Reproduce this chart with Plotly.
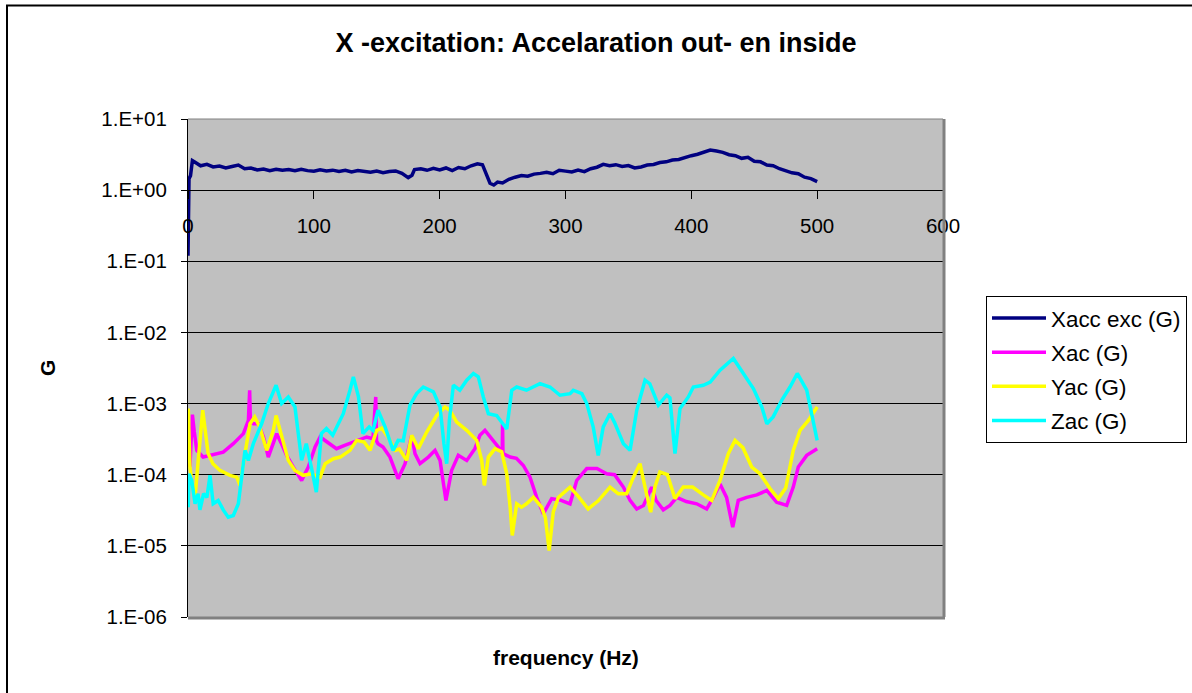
import plotly.graph_objects as go

# ---------------- data ----------------
freq_exc = [0, 0.8, 2, 3.5, 5, 10, 15, 20, 25, 30, 35, 40, 45, 50, 55, 60, 65, 70, 75, 80, 85, 90,
            95, 100, 105, 110, 115, 120, 125, 130, 135, 140, 145, 150, 155, 160, 165, 170, 175,
            178, 180, 185, 190, 195, 200, 205, 210, 215, 220, 225, 230, 234, 237, 240, 243, 246,
            250, 255, 260, 265, 270, 275, 280, 285, 290, 295, 300, 305, 310, 315, 320, 325, 330,
            335, 340, 345, 350, 355, 360, 365, 370, 375, 380, 385, 390, 395, 400, 405, 410, 415,
            420, 425, 430, 435, 440, 445, 450, 455, 460, 465, 470, 475, 480, 485, 490, 495, 500]
xacc_exc = [0.12, 1.45, 1.6, 2.6, 2.5, 2.2, 2.3, 2.12, 2.18, 2.05, 2.15, 2.25, 2.0, 2.05, 1.92,
            1.98, 1.88, 1.97, 1.9, 1.95, 1.87, 1.96, 1.88, 1.84, 1.93, 1.86, 1.91, 1.83, 1.9, 1.8,
            1.88, 1.84, 1.78, 1.85, 1.76, 1.83, 1.86, 1.72, 1.5, 1.62, 1.95, 2.0, 1.9, 2.02, 1.92,
            2.05, 1.88, 2.08, 2.0, 2.2, 2.35, 2.28, 1.7, 1.25, 1.18, 1.3, 1.26, 1.42, 1.52, 1.6,
            1.57, 1.68, 1.72, 1.78, 1.7, 1.9, 1.85, 1.8, 1.92, 1.82, 2.0, 2.1, 2.3, 2.2, 2.28,
            2.15, 2.22, 2.05, 2.12, 2.25, 2.3, 2.45, 2.5, 2.65, 2.7, 2.9, 3.05, 3.2, 3.4, 3.65,
            3.55, 3.4, 3.15, 3.05, 2.8, 2.9, 2.55, 2.5, 2.25, 2.2, 2.0, 1.88, 1.75, 1.7, 1.52,
            1.45, 1.32]

freq_x = [1.5, 3.5, 5, 7, 12, 17.6, 28, 36, 44, 48, 49.0, 49.6, 52, 56, 60, 63.8, 67, 70.5, 74,
          78.4, 83.7, 90.3, 95.6, 101, 105, 113, 118, 125, 131, 142, 147, 149.2, 149.8, 151,
          155, 160.5, 167, 172.5, 177.8, 180.4, 184.4, 191, 196.3, 200.3, 205, 209.5, 214.8,
          221.5, 228, 232, 236, 241.3, 246.6, 249.7, 250.0, 250.3, 256, 261, 266.5, 271.8,
          277.1, 282.4, 289, 296, 303.6, 308.9, 316.9, 325, 332.7, 339, 346, 351.3, 356.6,
          362, 368.5, 372, 377.7, 383, 388.4, 396, 404.3, 412.2, 417.5, 422.8, 428, 432.9,
          437.3, 444, 452, 460, 467.8, 475.8, 481, 485, 491.7, 500]
xac = [1.3e-4, 7e-4, 4e-4, 2.2e-4, 1.77e-4, 1.87e-4, 2.08e-4, 2.73e-4, 3.78e-4, 5.8e-4, 1.54e-3,
       5.5e-4, 5.2e-4, 5.2e-4, 3.39e-4, 1.77e-4, 2.5e-4, 3.78e-4, 2.8e-4, 1.87e-4, 1.28e-4,
       8.3e-5, 1.28e-4, 2.45e-4, 3.39e-4, 2.73e-4, 2.32e-4, 2.6e-4, 2.88e-4, 3.39e-4, 3.21e-4,
       1.24e-3, 3.0e-4, 2.73e-4, 2.45e-4, 1.77e-4, 8.8e-5, 1.43e-4, 3.58e-4, 1.98e-4, 1.43e-4,
       1.77e-4, 2.2e-4, 1.59e-4, 4.35e-5, 1.15e-4, 1.87e-4, 1.59e-4, 2.32e-4, 3.58e-4, 4.2e-4,
       3.21e-4, 2.45e-4, 2.0e-4, 5.2e-4, 1.98e-4, 1.77e-4, 1.7e-4, 1.35e-4, 9.25e-5, 4.8e-5,
       2.83e-5, 4.6e-5, 4.4e-5, 3.9e-5, 8.3e-5, 1.22e-4, 1.22e-4, 1.03e-4, 1.0e-4, 6.7e-5,
       4.35e-5, 3.3e-5, 3.7e-5, 6.7e-5, 4.35e-5, 3.2e-5, 3.7e-5, 4.8e-5, 4.2e-5, 3.9e-5,
       3.3e-5, 4.8e-5, 7.4e-5, 4.8e-5, 1.83e-5, 4.35e-5, 4.8e-5, 5.2e-5, 6e-5, 4.1e-5, 3.7e-5,
       6.7e-5, 1.28e-4, 1.87e-4, 2.32e-4]

freq_y = [0.2, 1.5, 3, 5.6, 8, 11.7, 16, 19.8, 25.4, 33.4, 38.7, 41.3, 45.3, 49.3, 53, 57, 62.5,
          67.8, 70, 74.4, 79.7, 85, 91.6, 98, 105, 109, 115.5, 121, 128.7, 134, 140, 144.6, 150,
          154, 159, 164.5, 168, 173.8, 177.8, 183, 189.7, 197.6, 204.2, 208.2, 213.5, 221.5,
          229.4, 233.4, 235.5, 238.7, 244, 249.3, 253.3, 256, 257.7, 261.2, 265, 269, 274.5,
          281, 284, 287, 290.3, 294.3, 303.6, 310, 318, 326, 335.4, 342, 348.6, 354, 359.2,
          363.2, 367.7, 371, 375, 381, 387, 393.6, 401, 409.5, 416.2, 422.8, 429.4, 434.7, 441,
          448, 454.6, 462.5, 469.1, 475, 481, 486.4, 493, 500]
yac = [8.5e-4, 1.3e-4, 8e-5, 4.8e-5, 1.5e-4, 8.05e-4, 1.98e-4, 1.43e-4, 1.15e-4, 9.8e-5, 9.25e-5,
       7.07e-5, 1.98e-4, 5.2e-4, 6.5e-4, 4.7e-4, 2.2e-4, 4.2e-4, 6.8e-4, 3.39e-4, 1.59e-4,
       1.15e-4, 9.8e-5, 1.03e-4, 9.25e-5, 1.43e-4, 1.68e-4, 1.77e-4, 2.2e-4, 3.04e-4, 2.88e-4,
       2.2e-4, 4.2e-4, 4.5e-4, 3.39e-4, 2.2e-4, 2.3e-4, 1.59e-4, 3.58e-4, 2.32e-4, 3.98e-4,
       6.8e-4, 8.97e-4, 8e-4, 5.5e-4, 4.2e-4, 3.04e-4, 1.59e-4, 7.07e-5, 1.77e-4, 2.32e-4,
       2.1e-4, 1.03e-4, 3.5e-5, 1.4e-5, 3.9e-5, 3.5e-5, 3.9e-5, 4.8e-5, 3.5e-5, 2.5e-5, 8.6e-6,
       3.0e-5, 4.8e-5, 6.7e-5, 5.0e-5, 3.3e-5, 4.3e-5, 6.7e-5, 5.4e-5, 5.4e-5, 9.25e-5,
       1.43e-4, 6.7e-5, 2.97e-5, 6.7e-5, 1.09e-4, 1.0e-4, 4.6e-5, 6.7e-5, 6.7e-5, 5.2e-5,
       4.35e-5, 8.3e-5, 1.98e-4, 3.04e-4, 2.4e-4, 1.28e-4, 1.03e-4, 6.4e-5, 4.6e-5, 6.5e-5,
       2.2e-4, 4.2e-4, 5.8e-4, 8.97e-4]

freq_z = [0.2, 0.8, 3, 5.6, 8, 9.5, 12.4, 15, 17.5, 20, 24, 28, 32, 36, 40, 42.7, 45.3, 48, 51.9,
          58.5, 63.8, 70, 74.4, 79.7, 85, 90.3, 94, 98, 102, 106, 110, 115, 123.4, 128.7, 131.4,
          135.5, 139, 144, 147, 151, 156.6, 163, 167, 171, 176.4, 181.7, 187, 195, 200.3, 203.4,
          205.6, 207.7, 210.9, 216, 221.5, 226.8, 230.7, 234.7, 238.7, 245.3, 250.6, 253.3,
          257.3, 261.2, 269, 279.7, 287.7, 295.6, 303.6, 306.2, 313, 316.9, 322, 326, 330,
          335.4, 339, 346, 351.3, 356.6, 363.2, 367, 373.8, 380.4, 383, 387, 391, 397.6, 401.6,
          409.5, 415, 422.8, 433.4, 441.3, 449.3, 456, 460, 465, 471.8, 478.4, 484.2, 491.7,
          497, 500]
zac = [3.5e-5, 1.03e-4, 8.3e-5, 3.9e-5, 5.4e-5, 3.2e-5, 5.4e-5, 4.8e-5, 9.8e-5, 3.9e-5, 4.35e-5,
       3.2e-5, 2.53e-5, 2.67e-5, 3.9e-5, 9.25e-5, 2.2e-4, 1.59e-4, 2.73e-4, 5.2e-4, 1e-3,
       1.81e-3, 1e-3, 1.24e-3, 8.97e-4, 1.59e-4, 2.73e-4, 1.28e-4, 5.7e-5, 3.78e-4, 4.45e-4,
       3.58e-4, 7.2e-4, 1.54e-3, 2.37e-3, 1.24e-3, 3.78e-4, 4.7e-4, 4.2e-4, 8.05e-4, 4.7e-4,
       2.2e-4, 3.04e-4, 3.0e-4, 9.5e-4, 1.38e-3, 1.71e-3, 1.46e-3, 8.97e-4, 2.73e-4, 1.43e-4,
       5.8e-4, 1.81e-3, 1.54e-3, 2.13e-3, 2.65e-3, 2.37e-3, 1.24e-3, 7.2e-4, 6.8e-4, 4.95e-4,
       4.4e-4, 1.54e-3, 1.71e-3, 1.54e-3, 1.91e-3, 1.71e-3, 1.31e-3, 1.38e-3, 1.54e-3, 1.38e-3,
       1e-3, 4.7e-4, 1.87e-4, 4.7e-4, 7.2e-4, 5.4e-4, 2.73e-4, 2.2e-4, 8.05e-4, 2.13e-3, 1.9e-3,
       9.5e-4, 1.31e-3, 1.2e-3, 1.98e-4, 8.5e-4, 1.24e-3, 1.71e-3, 1.81e-3, 2.0e-3, 2.94e-3,
       4.3e-3, 2.65e-3, 1.63e-3, 8.97e-4, 5.2e-4, 6.5e-4, 1.11e-3, 1.71e-3, 2.65e-3, 1.54e-3,
       5.2e-4, 3.04e-4]

series_names = ["Xacc exc (G)", "Xac (G)", "Yac (G)", "Zac (G)"]
y_tick_vals = [1e-6, 1e-5, 1e-4, 1e-3, 1e-2, 1e-1, 1e0, 1e1]
y_tick_text = ["1.E-06", "1.E-05", "1.E-04", "1.E-03", "1.E-02", "1.E-01", "1.E+00", "1.E+01"]
x_tick_vals = [0, 100, 200, 300, 400, 500, 600]

# ---------------- figure ----------------
FONT = "Liberation Sans, Arial, sans-serif"
colors = ["#000080", "#FF00FF", "#FFFF00", "#00FFFF"]
datasets = [(freq_exc, xacc_exc), (freq_x, xac), (freq_y, yac), (freq_z, zac)]

fig = go.Figure()
for i, ((fx, fy), name) in enumerate(zip(datasets, series_names)):
    fig.add_trace(go.Scatter(x=fx, y=fy, mode="lines", name=name,
                             legendgroup=name,
                             line=dict(color=colors[i], width=3.5)))

W, H = 1192, 693
L, R, T, B = 188, 943, 119, 617
pw, ph = R - L, B - T

def px(xp):
    return (xp - L) / pw

def py(yp):
    return (B - yp) / ph

fig.update_layout(
    width=W, height=H,
    margin=dict(l=L, r=W - R, t=T, b=H - B, pad=0, autoexpand=False),
    paper_bgcolor="white",
    plot_bgcolor="#C0C0C0",
    font=dict(family=FONT, size=20, color="black"),
    title=dict(text="<b>X -excitation: Accelaration out- en inside</b>",
               x=0.5, xanchor="center", y=1 - 43 / H, yanchor="middle",
               font=dict(family=FONT, size=27, color="black")),
    showlegend=True,
    legend=dict(x=px(986), y=py(296), xanchor="left", yanchor="top",
                bgcolor="white", bordercolor="black", borderwidth=1,
                font=dict(family=FONT, size=22.4, color="black"),
                tracegroupgap=2, itemwidth=54),
    xaxis=dict(range=[0, 600], tickvals=x_tick_vals, showgrid=False, zeroline=False,
               showline=True, linecolor="black", linewidth=1,
               ticks="outside", ticklen=8, tickcolor="black",
               anchor="free", position=6 / 7, ticklabelstandoff=9,
               tickfont=dict(family=FONT, size=20.5, color="black")),
    yaxis=dict(type="log", range=[-6, 1], tickvals=y_tick_vals, ticktext=y_tick_text,
               showgrid=True, gridcolor="black", gridwidth=1, zeroline=False,
               showline=True, linecolor="black", linewidth=1,
               ticks="outside", ticklen=6, tickcolor="black", ticklabelstandoff=10,
               tickfont=dict(family=FONT, size=20.5, color="black")),
    annotations=[
        dict(text="<b>frequency (Hz)</b>", xref="paper", yref="paper",
             x=0.5, y=py(657), xanchor="center", yanchor="middle", showarrow=False,
             font=dict(family=FONT, size=21, color="black")),
        dict(text="<b>G</b>", xref="paper", yref="paper", textangle=-90,
             x=px(47), y=0.5, xanchor="center", yanchor="middle", showarrow=False,
             font=dict(family=FONT, size=21, color="black")),
    ],
    shapes=[
        dict(type="line", xref="paper", yref="paper", x0=0, x1=1, y0=1, y1=1,
             line=dict(color="#808080", width=1)),
        dict(type="line", xref="paper", yref="paper", x0=px(R + 1), x1=px(R + 1), y0=0, y1=1,
             line=dict(color="#808080", width=3)),
        dict(type="line", xref="paper", yref="paper", x0=0, x1=px(R + 2), y0=py(B + 1), y1=py(B + 1),
             line=dict(color="#808080", width=3)),
        dict(type="rect", xref="paper", yref="paper", x0=px(7), x1=px(1200),
             y0=py(705), y1=py(5.5), line=dict(color="black", width=2)),
    ],
)

fig.write_html("out.html", config={"displayModeBar": False},
               post_script="document.body.style.margin='0px';document.body.style.overflow='hidden';")
